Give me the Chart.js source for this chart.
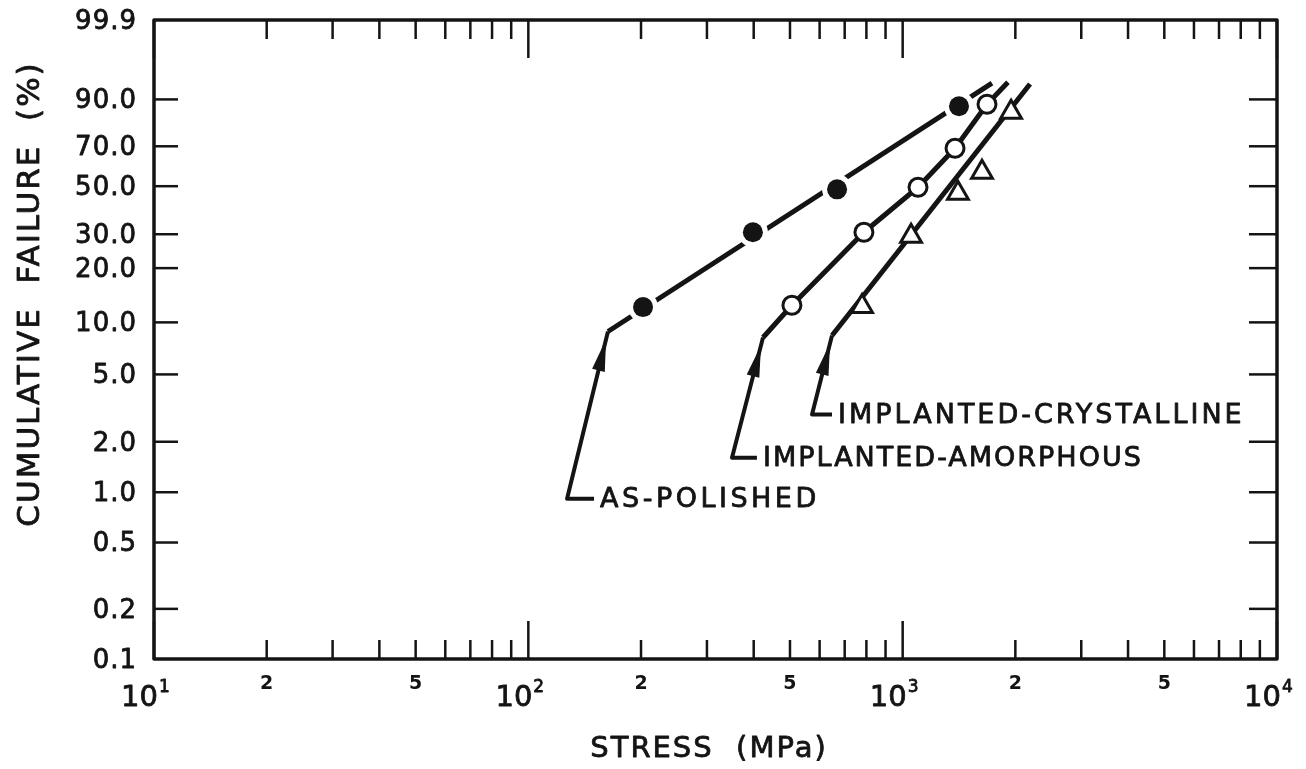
<!DOCTYPE html>
<html>
<head>
<meta charset="utf-8">
<title>Cumulative failure vs stress</title>
<script src="https://cdn.jsdelivr.net/npm/chart.js@4.4.1/dist/chart.umd.min.js"></script>
<style>
  html, body { margin: 0; padding: 0; background: #fff; }
  canvas { display: block; }
</style>
</head>
<body>
<canvas id="chart" width="1306" height="769"></canvas>
<script>
// measured points: stress in MPa, cumulative failure in %
var polishedStress = [202.5, 398, 668, 1414];
var polishedFailure = [12.2, 30.7, 48.5, 87.7];
var amorphousStress = [506, 788, 1099, 1380, 1680];
var amorphousFailure = [12.5, 30.7, 49.5, 69.0, 88.4];
var crystallineStress = [779, 1053, 1405, 1629, 1948];
var crystallineFailure = [12.3, 29.3, 46.7, 56.9, 85.5];

// drawn curves through the data
var polishedFitStress = [163.2, 1732];
var polishedFitFailure = [8.87, 94.4];
var amorphousFitStress = [423.6, 506, 788, 1099, 1380, 1680, 1911];
var amorphousFitFailure = [8.19, 12.5, 30.7, 49.5, 69.0, 88.4, 94.6];
var crystallineFitStress = [647.5, 2189];
var crystallineFitFailure = [8.41, 94.2];

// label leaders: hook end, corner, arrow target (start of curve)
var polishedLeadStress = [149.8, 126.9, 163.2];
var polishedLeadFailure = [0.914, 0.914, 8.87];
var amorphousLeadStress = [408, 350, 423.6];
var amorphousLeadFailure = [1.608, 1.608, 8.19];
var crystallineLeadStress = [647.5, 572.6, 647.5];
var crystallineLeadFailure = [2.90, 2.90, 8.41];

var seriesNames = ["AS-POLISHED", "IMPLANTED-AMORPHOUS", "IMPLANTED-CRYSTALLINE"];

// axis ticks
var yTicks = [0.1, 0.2, 0.5, 1, 2, 5, 10, 20, 30, 50, 70, 90, 99.9];
var yTickLabels = ["0.1", "0.2", "0.5", "1.0", "2.0", "5.0", "10.0", "20.0", "30.0", "50.0", "70.0", "90.0", "99.9"];
var xDecades = [10, 100, 1000, 10000];
var xDecadeExponents = ["1", "2", "3", "4"];
var xMinorSteps = [2, 3, 4, 5, 6, 7, 8, 9];
var xMinorLabelled = [2, 5];

var ink = "#141414";
var font = "'DejaVu Sans', sans-serif";
var nameSpacing = ["3.5px", "2px", "3px"];

// Weibull probability transform
function weib(p) {
  return Math.log(-Math.log(1 - p / 100));
}

function pts(xs, ys) {
  return xs.map(function (x, i) {
    return { x: x, y: weib(ys[i]) };
  });
}

function lineSet(xs, ys, width) {
  return {
    data: pts(xs, ys),
    showLine: true,
    pointRadius: 0,
    borderColor: ink,
    borderWidth: width,
    borderCapStyle: "butt",
    borderJoinStyle: "round",
    tension: 0,
    order: 3
  };
}

function stroke(ctx, x1, y1, x2, y2) {
  ctx.beginPath();
  ctx.moveTo(x1, y1);
  ctx.lineTo(x2, y2);
  ctx.stroke();
}

// lettering a little heavier than the plain font
function letter(ctx, text, x, y) {
  var w = ctx.lineWidth;
  ctx.lineWidth = 0.8;
  ctx.fillText(text, x, y);
  ctx.strokeText(text, x, y);
  ctx.lineWidth = w;
}

var leads = [
  [polishedLeadStress, polishedLeadFailure],
  [amorphousLeadStress, amorphousLeadFailure],
  [crystallineLeadStress, crystallineLeadFailure]
];

// frame, inward ticks, tick labels, titles, arrowheads and series names
var paperAxes = {
  id: "paperAxes",
  afterDatasetsDraw: function (chart) {
    var ctx = chart.ctx;
    var a = chart.chartArea;
    var xs = chart.scales.x;
    var ys = chart.scales.y;
    ctx.save();
    ctx.strokeStyle = ink;
    ctx.fillStyle = ink;
    ctx.lineCap = "butt";
    ctx.lineJoin = "round";

    ctx.lineWidth = 3.5;
    ctx.strokeRect(a.left, a.top, a.right - a.left, a.bottom - a.top);

    // probability axis
    ctx.lineWidth = 2.5;
    ctx.font = "26px " + font;
    ctx.letterSpacing = "1px";
    ctx.textAlign = "right";
    ctx.textBaseline = "middle";
    yTicks.forEach(function (p, i) {
      var py = ys.getPixelForValue(weib(p));
      if (p > 0.1 && p < 99.9) {
        stroke(ctx, a.left, py, a.left + 24, py);
        stroke(ctx, a.right, py, a.right - 28, py);
      }
      letter(ctx, yTickLabels[i], a.left - 17, py + 2);
    });
    ctx.letterSpacing = "0px";

    // stress axis
    xDecades.forEach(function (d, i) {
      var px = xs.getPixelForValue(d);
      stroke(ctx, px, a.bottom, px, a.bottom - 38);
      stroke(ctx, px, a.top, px, a.top + 38);
      ctx.textAlign = "right";
      ctx.textBaseline = "alphabetic";
      ctx.font = "29px " + font;
      letter(ctx, "10", px + 4, a.bottom + 47);
      ctx.textAlign = "left";
      ctx.font = "17px " + font;
      letter(ctx, xDecadeExponents[i], px + 5, a.bottom + 33);
      if (d === 10000) return;
      xMinorSteps.forEach(function (m) {
        var mx = xs.getPixelForValue(d * m);
        stroke(ctx, mx, a.bottom, mx, a.bottom - 19);
        stroke(ctx, mx, a.top, mx, a.top + 19);
        if (xMinorLabelled.indexOf(m) >= 0) {
          ctx.font = "bold 19px " + font;
          ctx.textAlign = "center";
          ctx.textBaseline = "middle";
          ctx.fillText(String(m), mx, a.bottom + 25);
        }
      });
    });

    // axis titles
    ctx.font = "29px " + font;
    ctx.letterSpacing = "2px";
    ctx.textAlign = "center";
    ctx.textBaseline = "middle";
    letter(ctx, "STRESS  (MPa)", 709, a.bottom + 90);
    ctx.save();
    ctx.translate(31, 294);
    ctx.rotate(-Math.PI / 2);
    ctx.font = "31px " + font;
    letter(ctx, "CUMULATIVE  FAILURE  (%)", 0, 0);
    ctx.restore();

    // arrowheads and names at the leader lines
    ctx.font = "27px " + font;
    ctx.textAlign = "left";
    ctx.textBaseline = "middle";
    leads.forEach(function (lead, i) {
      var p = lead[0].map(function (s, k) {
        return { x: xs.getPixelForValue(s), y: ys.getPixelForValue(weib(lead[1][k])) };
      });
      var dx = p[2].x - p[1].x;
      var dy = p[2].y - p[1].y;
      var len = Math.sqrt(dx * dx + dy * dy);
      var ux = dx / len;
      var uy = dy / len;
      var tipX = p[2].x - ux * 8;
      var tipY = p[2].y - uy * 8;
      var baseX = tipX - ux * 32;
      var baseY = tipY - uy * 32;
      ctx.beginPath();
      ctx.moveTo(tipX, tipY);
      ctx.lineTo(baseX - uy * 6.5, baseY + ux * 6.5);
      ctx.lineTo(baseX + uy * 6.5, baseY - ux * 6.5);
      ctx.closePath();
      ctx.fill();
      ctx.letterSpacing = nameSpacing[i];
      letter(ctx, seriesNames[i], p[0].x + 6, p[0].y + 1);
    });
    ctx.restore();
  }
};

new Chart(document.getElementById("chart"), {
  type: "scatter",
  data: {
    datasets: [
      // markers on top
      {
        data: pts(polishedStress, polishedFailure),
        pointStyle: "circle",
        pointRadius: 10,
        pointBackgroundColor: ink,
        pointBorderColor: ink,
        pointBorderWidth: 0,
        order: 1
      },
      {
        data: pts(amorphousStress, amorphousFailure),
        pointStyle: "circle",
        pointRadius: 9,
        pointBackgroundColor: "#fff",
        pointBorderColor: ink,
        pointBorderWidth: 3,
        order: 1
      },
      {
        data: pts(crystallineStress, crystallineFailure),
        pointStyle: "triangle",
        pointRadius: 12,
        pointBackgroundColor: "#fff",
        pointBorderColor: ink,
        pointBorderWidth: 3,
        order: 1
      },
      // white gaps where the solid dots break the line
      {
        data: pts(polishedStress, polishedFailure),
        pointStyle: "circle",
        pointRadius: 15,
        pointBackgroundColor: "#fff",
        pointBorderWidth: 0,
        order: 2
      },
      lineSet(polishedFitStress, polishedFitFailure, 5),
      lineSet(amorphousFitStress, amorphousFitFailure, 5),
      lineSet(crystallineFitStress, crystallineFitFailure, 5),
      lineSet(polishedLeadStress, polishedLeadFailure, 4),
      lineSet(amorphousLeadStress, amorphousLeadFailure, 4),
      lineSet(crystallineLeadStress, crystallineLeadFailure, 4)
    ]
  },
  options: {
    responsive: false,
    animation: false,
    events: [],
    layout: { padding: { left: 154, top: 20, right: 29, bottom: 110 } },
    plugins: { legend: { display: false }, tooltip: { enabled: false } },
    scales: {
      x: { type: "logarithmic", min: 10, max: 10000, display: false },
      y: { type: "linear", min: weib(0.1), max: weib(99.9), display: false }
    }
  },
  plugins: [paperAxes]
});
</script>
</body>
</html>
